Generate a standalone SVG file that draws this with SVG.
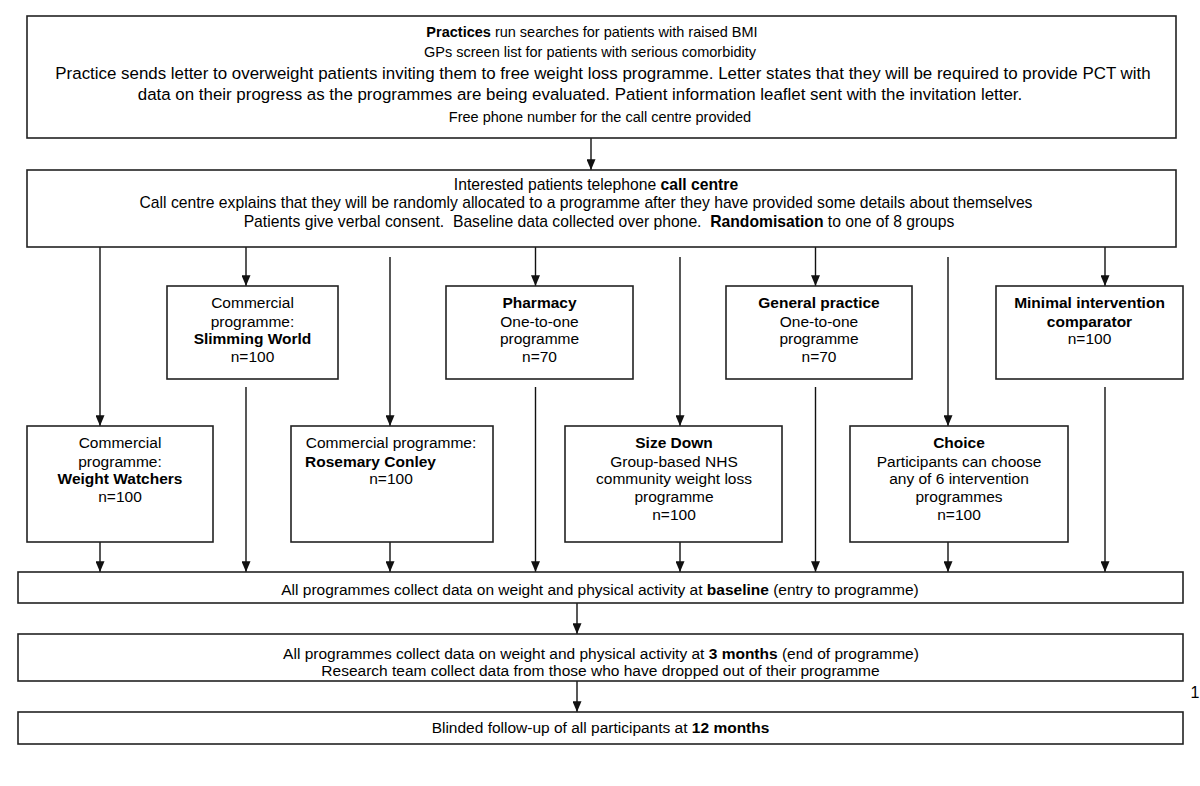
<svg xmlns="http://www.w3.org/2000/svg" width="1200" height="786" viewBox="0 0 1200 786">
<style>
.box{fill:#fff;stroke:#222;stroke-width:1.6}
.ln{fill:none;stroke:#111;stroke-width:1.4}
text{font-family:"Liberation Sans",Arial,sans-serif;fill:#000;text-anchor:middle}
.t1{font-size:14.5px}
.t2{font-size:16.9px}
.cc{font-size:15.7px}
.nd{font-size:15.5px}
.bt{font-size:15.5px}
.s16{font-size:16px}
.b{font-weight:bold}
</style>
<defs>
<marker id="ah" viewBox="0 0 12 10" refX="12" refY="5" markerWidth="11" markerHeight="9" markerUnits="userSpaceOnUse" orient="auto">
<path d="M0,0 L12,5 L0,10 z" fill="#111"/>
</marker>
</defs>
<rect width="1200" height="786" fill="#fff"/>

<g id="connectors">
<line class="ln" x1="591" y1="138" x2="591" y2="170" marker-end="url(#ah)"/>
<line class="ln" x1="100" y1="247" x2="100" y2="426" marker-end="url(#ah)"/>
<line class="ln" x1="246" y1="247" x2="246" y2="286" marker-end="url(#ah)"/>
<line class="ln" x1="390" y1="257" x2="390" y2="426" marker-end="url(#ah)"/>
<line class="ln" x1="535.5" y1="247" x2="535.5" y2="286" marker-end="url(#ah)"/>
<line class="ln" x1="680" y1="257" x2="680" y2="426" marker-end="url(#ah)"/>
<line class="ln" x1="815.5" y1="247" x2="815.5" y2="286" marker-end="url(#ah)"/>
<line class="ln" x1="948" y1="257" x2="948" y2="426" marker-end="url(#ah)"/>
<line class="ln" x1="1105" y1="247" x2="1105" y2="286" marker-end="url(#ah)"/>
<line class="ln" x1="100" y1="542" x2="100" y2="572" marker-end="url(#ah)"/>
<line class="ln" x1="246" y1="387" x2="246" y2="572" marker-end="url(#ah)"/>
<line class="ln" x1="390" y1="542" x2="390" y2="572" marker-end="url(#ah)"/>
<line class="ln" x1="535.5" y1="387" x2="535.5" y2="572" marker-end="url(#ah)"/>
<line class="ln" x1="680" y1="542" x2="680" y2="572" marker-end="url(#ah)"/>
<line class="ln" x1="815.5" y1="387" x2="815.5" y2="572" marker-end="url(#ah)"/>
<line class="ln" x1="948" y1="542" x2="948" y2="572" marker-end="url(#ah)"/>
<line class="ln" x1="1105" y1="387" x2="1105" y2="572" marker-end="url(#ah)"/>
<line class="ln" x1="577" y1="603" x2="577" y2="634" marker-end="url(#ah)"/>
<line class="ln" x1="577" y1="681" x2="577" y2="712" marker-end="url(#ah)"/>
</g>

<g id="practices">
<rect class="box" x="27" y="16" width="1149" height="122"/>
<text class="t1" x="592" y="37"><tspan class="b">Practices</tspan> run searches for patients with raised BMI</text>
<text class="t1" x="590" y="57">GPs screen list for patients with serious comorbidity</text>
<text class="t2" x="603" y="79">Practice sends letter to overweight patients inviting them to free weight loss programme. Letter states that they will be required to provide PCT with</text>
<text class="t2" x="580" y="100">data on their progress as the programmes are being evaluated. Patient information leaflet sent with the invitation letter.</text>
<text class="t1" x="600" y="122">Free phone number for the call centre provided</text>
</g>

<g id="callcentre">
<rect class="box" x="27" y="170" width="1149" height="77"/>
<text class="cc" x="596" y="190">Interested patients telephone <tspan class="b">call centre</tspan></text>
<text class="cc" x="586" y="208">Call centre explains that they will be randomly allocated to a programme after they have provided some details about themselves</text>
<text class="cc" x="599" y="227">Patients give verbal consent.&#160; Baseline data collected over phone.&#160; <tspan class="b">Randomisation</tspan> to one of 8 groups</text>
</g>

<g id="slimming">
<rect class="box" x="167" y="286" width="171" height="93"/>
<text class="nd" x="252.5" y="308">Commercial</text>
<text class="nd" x="252.5" y="327">programme:</text>
<text class="nd b" x="252.5" y="344">Slimming World</text>
<text class="nd" x="252.5" y="362">n=100</text>
</g>

<g id="pharmacy">
<rect class="box" x="446" y="286" width="187" height="93"/>
<text class="nd b" x="539.5" y="308">Pharmacy</text>
<text class="nd" x="539.5" y="327">One-to-one</text>
<text class="nd" x="539.5" y="344">programme</text>
<text class="nd" x="539.5" y="362">n=70</text>
</g>

<g id="generalpractice">
<rect class="box" x="726" y="286" width="186" height="93"/>
<text class="nd b" x="819" y="308">General practice</text>
<text class="nd" x="819" y="327">One-to-one</text>
<text class="nd" x="819" y="344">programme</text>
<text class="nd" x="819" y="362">n=70</text>
</g>

<g id="minimal">
<rect class="box" x="996" y="286" width="187" height="93"/>
<text class="nd b" x="1089.5" y="308">Minimal intervention</text>
<text class="nd b" x="1089.5" y="327">comparator</text>
<text class="nd" x="1089.5" y="344">n=100</text>
</g>

<g id="weightwatchers">
<rect class="box" x="27" y="426" width="186" height="116"/>
<text class="nd" x="120" y="448">Commercial</text>
<text class="nd" x="120" y="467">programme:</text>
<text class="nd b" x="120" y="484">Weight Watchers</text>
<text class="nd" x="120" y="502">n=100</text>
</g>

<g id="rosemary">
<rect class="box" x="291" y="426" width="202" height="116"/>
<text class="nd" x="391" y="448">Commercial programme:</text>
<text class="nd b" x="305" y="467" style="text-anchor:start">Rosemary Conley</text>
<text class="nd" x="391" y="484">n=100</text>
</g>

<g id="sizedown">
<rect class="box" x="565" y="426" width="217" height="116"/>
<text class="nd b" x="674" y="448">Size Down</text>
<text class="nd" x="674" y="467">Group-based NHS</text>
<text class="nd" x="674" y="484">community weight loss</text>
<text class="nd" x="674" y="502">programme</text>
<text class="nd" x="674" y="520">n=100</text>
</g>

<g id="choice">
<rect class="box" x="850" y="426" width="218" height="116"/>
<text class="nd b" x="959" y="448">Choice</text>
<text class="nd" x="959" y="467">Participants can choose</text>
<text class="nd" x="959" y="484">any of 6 intervention</text>
<text class="nd" x="959" y="502">programmes</text>
<text class="nd" x="959" y="520">n=100</text>
</g>

<g id="baseline">
<rect class="box" x="18" y="572" width="1165" height="31"/>
<text class="bt" x="600" y="595">All programmes collect data on weight and physical activity at <tspan class="b">baseline</tspan> (entry to programme)</text>
</g>

<g id="threemonths">
<rect class="box" x="18" y="634" width="1165" height="47"/>
<text class="bt" x="601" y="659">All programmes collect data on weight and physical activity at <tspan class="b">3 months</tspan> (end of programme)</text>
<text class="bt" x="600.5" y="676">Research team collect data from those who have dropped out of their programme</text>
</g>

<g id="twelvemonths">
<rect class="box" x="18" y="712" width="1165" height="32"/>
<text class="bt" x="600.5" y="733">Blinded follow-up of all participants at <tspan class="b">12 months</tspan></text>
</g>

<text class="s16" x="1195" y="698">1</text>
</svg>
